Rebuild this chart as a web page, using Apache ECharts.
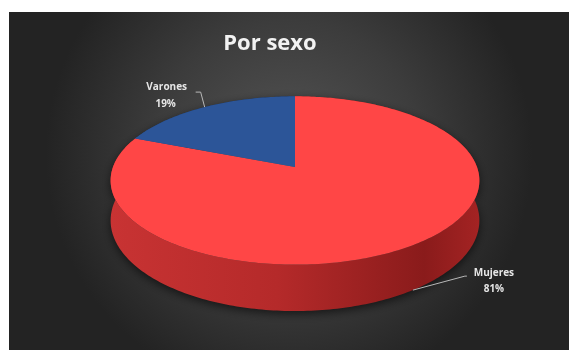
<!DOCTYPE html>
<html>
<head>
<meta charset="utf-8">
<script src="https://cdn.jsdelivr.net/npm/echarts@6/dist/echarts.min.js"></script>
<style>
  html, body { margin: 0; padding: 0; background: #ffffff; }
  #chart { width: 569px; height: 350px; }
</style>
</head>
<body>
<div id="chart"></div>
<script>
// Slices, in drawing order (clockwise from 12 o'clock)
const categories = ['Mujeres', 'Varones'];
const values = [81, 19];
const titleText = 'Por sexo';

// Look of the slices
const topColors = ['#ff4646', '#2c5598'];
const wallColors = [
  ['#c83333', '#b52a2a', '#8a1b1b', '#a42323'],
  ['#22467f', '#1d3d70', '#15305a', '#1d3d70']
];

// Tilted-disc geometry (pixels)
const geo = { cx: 295, cy: 167, rx: 182, ry: 82, depth: 39, persp: 0.16 };

// Label placement relative to each slice's anchor
const labelPlacement = [
  { anchorOnBase: true, bend: [52, -14], end: [54, -14], name: [81, -17], pct: [81, -1] },
  { anchorOnBase: false, bend: [-4, -15], end: [-9, -15], name: [-38, -20], pct: [-39, -3] }
];

const total = values.reduce((a, b) => a + b, 0);

// Project a point on the disc (angle phi clockwise from the back, radius r, drop h)
function project(phi, r, h) {
  const u = r * Math.sin(phi);
  const v = -r * Math.cos(phi);
  const d = 1 - geo.persp * v;
  return [geo.cx + geo.rx * u / d, geo.cy + (geo.ry * v + h) / d];
}

function arc(a0, a1, h) {
  const pts = [];
  const n = Math.max(8, Math.ceil((a1 - a0) / (Math.PI / 180)));
  for (let k = 0; k <= n; k++) {
    pts.push(project(a0 + (a1 - a0) * k / n, 1, h));
  }
  return pts;
}

function renderSlice(params, api) {
  const i = params.dataIndex;
  const value = api.value(1);
  let start = 0;
  for (let k = 0; k < i; k++) start += values[k];
  const a0 = start / total * Math.PI * 2;
  const a1 = (start + value) / total * Math.PI * 2;
  const mid = (a0 + a1) / 2;

  const children = [];

  // outer wall
  const topArc = arc(a0, a1, 0);
  const baseArc = arc(a0, a1, geo.depth).reverse();
  const wc = wallColors[i];
  children.push({
    type: 'polygon',
    z2: 1,
    shape: { points: topArc.concat(baseArc) },
    style: {
      fill: new echarts.graphic.LinearGradient(0, 0, 1, 0, [
        { offset: 0, color: wc[0] },
        { offset: 0.45, color: wc[1] },
        { offset: 0.85, color: wc[2] },
        { offset: 1, color: wc[3] }
      ]),
      shadowBlur: 10,
      shadowColor: 'rgba(0,0,0,0.6)',
      shadowOffsetY: 3
    }
  });

  // top face
  children.push({
    type: 'polygon',
    z2: 10,
    shape: { points: [project(0, 0, 0)].concat(arc(a0, a1, 0)) },
    style: { fill: topColors[i] }
  });

  // leader line and label
  const lp = labelPlacement[i];
  const anchor = project(mid, 1, lp.anchorOnBase ? geo.depth : 0);
  const bend = [anchor[0] + lp.bend[0], anchor[1] + lp.bend[1]];
  const end = [anchor[0] + lp.end[0], anchor[1] + lp.end[1]];
  children.push({
    type: 'polyline',
    z2: 20,
    shape: { points: [anchor, bend, end] },
    style: { stroke: '#b8b8b8', lineWidth: 1, fill: null }
  });
  const textStyle = {
    fill: '#e6e6e6',
    fontSize: 10,
    fontWeight: 'bold',
    fontFamily: 'Open Sans',
    align: 'center',
    verticalAlign: 'middle'
  };
  children.push({
    type: 'text',
    z2: 20,
    style: Object.assign({
      text: categories[i],
      x: anchor[0] + lp.name[0],
      y: anchor[1] + lp.name[1]
    }, textStyle)
  });
  children.push({
    type: 'text',
    z2: 20,
    style: Object.assign({
      text: Math.round(value / total * 100) + '%',
      x: anchor[0] + lp.pct[0],
      y: anchor[1] + lp.pct[1]
    }, textStyle)
  });

  return { type: 'group', children: children };
}

const chart = echarts.init(document.getElementById('chart'), null, { renderer: 'canvas' });
chart.setOption({
  animation: false,
  backgroundColor: '#ffffff',
  graphic: [
    {
      type: 'rect',
      z: -10,
      shape: { x: 9, y: 12, width: 560, height: 338 },
      style: {
        fill: new echarts.graphic.RadialGradient(0.5, 0.42, 0.72, [
          { offset: 0, color: '#545454' },
          { offset: 0.55, color: '#3c3c3c' },
          { offset: 1, color: '#232323' }
        ])
      },
      silent: true
    },
    {
      type: 'text',
      z: 10,
      x: 270,
      y: 44,
      style: {
        text: titleText,
        fill: '#f2f2f2',
        fontSize: 22,
        fontWeight: 'bold',
        fontFamily: 'Open Sans',
        align: 'center',
        verticalAlign: 'middle'
      }
    }
  ],
  series: [{
    type: 'custom',
    coordinateSystem: 'none',
    renderItem: renderSlice,
    data: values.map((v, i) => [i, v])
  }]
});
</script>
</body>
</html>
